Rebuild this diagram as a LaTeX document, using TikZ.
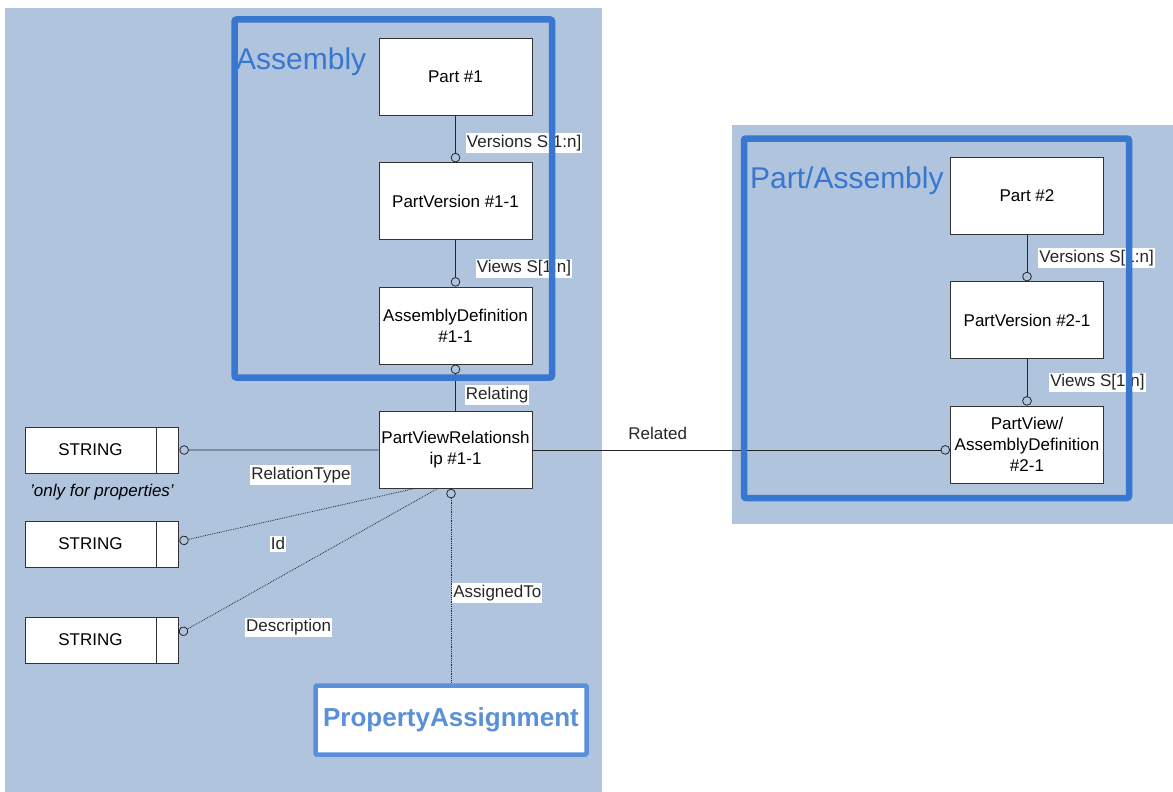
\documentclass[tikz,border=0pt]{standalone}
\usepackage{fontspec}
\setmainfont{Liberation Sans}
\usepackage{tikz}
\usetikzlibrary{arrows.meta}
\definecolor{panelblue}{HTML}{B0C4DE}
\definecolor{frameblue}{HTML}{3877D0}
\definecolor{propblue}{HTML}{5A90DA}

\begin{document}
\begin{tikzpicture}[
x=1pt, y=-1pt,
node distance=124.3pt,
every node/.style={font=\fontsize{17}{21}\selectfont},
entity/.style={rectangle, draw=black!80, fill=white, line width=0.9pt, minimum width=153pt, minimum height=77pt, align=center, inner sep=1pt},
strbox/.style={rectangle, draw=black!80, fill=white, line width=0.9pt, minimum width=131pt, minimum height=46pt, inner sep=1pt},
strend/.style={rectangle, draw=black!80, fill=white, line width=0.9pt, minimum width=22pt, minimum height=46pt, inner sep=0pt},
lbl/.style={fill=white, inner xsep=1pt, inner ysep=2pt},
link/.style={line width=0.8pt, black!85},
ring/.style={-{Circle[open, length=9.5pt, width=9.5pt, line width=0.8pt]}},
ringback/.style={{Circle[open, length=9.5pt, width=9.5pt, line width=0.8pt]}-},
dots/.style={link, densely dotted},
frame/.style={draw=frameblue, line width=6.5pt, rounded corners=2pt},
grouptitle/.style={font=\fontsize{30}{36}\selectfont, text=frameblue, anchor=base west, inner sep=0pt}
]
\useasboundingbox (0,0) rectangle (1173,792);
%Background
\fill[panelblue] (5,8) rectangle (602,792);
\fill[panelblue] (732,125) rectangle (1173,524);
%Nodes
\node[entity]    (p1)      at (455.5,77)           {Part \#1};
\node[entity]    (pv1)     [below of=p1]           {PartVersion \#1-1};
\node[entity]    (ad1)     [below of=pv1]          {AssemblyDefinition\\\#1-1};
\node[entity]    (pvr)     [below of=ad1]          {PartViewRelationsh\\ip \#1-1};
\node[entity]    (p2)      at (1027,196)           {Part \#2};
\node[entity]    (pv2)     [below of=p2]           {PartVersion \#2-1};
\node[entity]    (pw2)     [below of=pv2]          {PartView/\\AssemblyDefinition\\\#2-1};
\node[strbox]    (s1)      at (90.5,450)           {STRING};
\node[strend, anchor=west] (s1e) at (s1.east)      {};
\node[strbox]    (s2)      at (90.5,544)           {STRING};
\node[strend, anchor=west] (s2e) at (s2.east)      {};
\node[strbox]    (s3)      at (90.5,640)           {STRING};
\node[strend, anchor=west] (s3e) at (s3.east)      {};
\node            (note)    at (102,492)            {\itshape 'only for properties'};
\node[draw=propblue, line width=4.5pt, fill=white, rounded corners=1pt, minimum width=271pt, minimum height=69pt,
      font=\bfseries\fontsize{26}{30}\selectfont, text=propblue] (pa) at (451,720) {PropertyAssignment};
%Lines
\draw[link, ring] (p1) -- (pv1) node [lbl, midway, right, xshift=10pt, yshift=-4pt] {Versions S[1:n]};
\draw[link, ring] (pv1) -- (ad1) node [lbl, midway, right, xshift=20pt, yshift=-5pt] {Views S[1:n]};
\draw[link, ringback] (ad1) -- (pvr) node [lbl, midway, right, xshift=9pt, yshift=-7pt] {Relating};
\draw[link, ring] (p2) -- (pv2) node [lbl, midway, right, xshift=11pt] {Versions S[1:n]};
\draw[link, ring] (pv2) -- (pw2) node [lbl, midway, right, xshift=22pt] {Views S[1:n]};
\draw[link, ring] (pvr.east) -- (pw2.west |- pvr.east) node [pos=0.3, above=9pt, inner sep=1pt] {Related};
\draw[link, ring] (pvr) -- (s1e) node [lbl, pos=0.39, below=15pt] {RelationType};
\draw[dots, ring] ([xshift=-42.5pt]pvr.south) -- (s2e) node [lbl, pos=0.578, below=16pt] {Id};
\draw[dots, ring] ([xshift=-18.5pt]pvr.south) -- (s3e) node [lbl, pos=0.576, below=45pt] {Description};
\draw[dots, ringback] (pa.north |- pvr.south) -- (pa) node [lbl, midway, right, xshift=1pt, yshift=-7pt] {AssignedTo};
%Groups
\draw[frame] (234.5,19.5) rectangle (552,377.5);
\draw[frame] (744,138.5) rectangle (1129,498);
\node[grouptitle] (asm)  at (236,70)  {Assembly};
\node[grouptitle] (pasm) at (750,188) {Part/Assembly};
\end{tikzpicture}
\end{document}
